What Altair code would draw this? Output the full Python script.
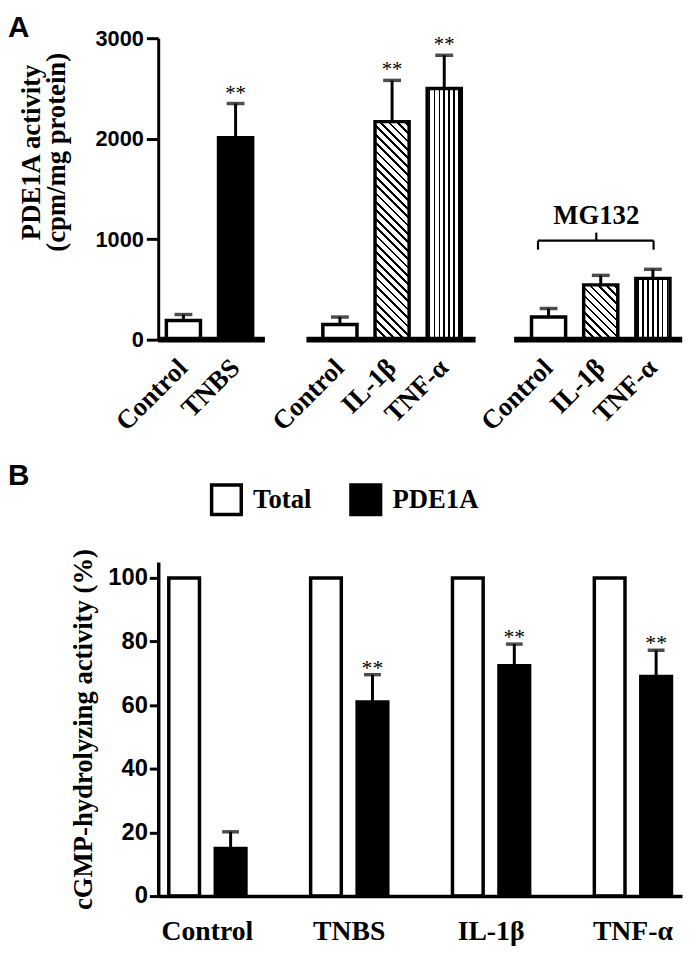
import altair as alt
import pandas as pd

# ---------------- Panel A data ----------------
a1_cats = ["Control", "TNBS"]
a1_vals = [190, 2010]
a1_sem = [60, 340]
a1_sig = ["", "**"]
a1_pat = ["open", "solid"]

a2_cats = ["Control", "IL-1β", "TNF-α"]
a2_vals = [150, 2170, 2500]
a2_sem = [75, 410, 330]
a2_sig = ["", "**", "**"]
a2_pat = ["open", "diag", "vert"]

a3_cats = ["Control", "IL-1β", "TNF-α"]
a3_vals = [225, 545, 610]
a3_sem = [85, 95, 90]
a3_sig = ["", "", ""]
a3_pat = ["open", "diag", "vert"]

a_ticks = [0, 1000, 2000, 3000]
a_ymax = 3000
a_title = ["PDE1A activity", "(cpm/mg protein)"]

mg_label = "MG132"
mg_text_y = 1150
bracket_y = 985
bracket_end_y = 895
bracket_mid_y = 1065

# ---------------- Panel B data ----------------
b_cats = ["Control", "TNBS", "IL-1β", "TNF-α"]
b_series = ["Total", "PDE1A"]
b_total = [100, 100, 100, 100]
b_pde = [15, 61, 72.4, 69]
b_pde_sem = [5.2, 8.6, 6.8, 8.3]
b_sig = ["", "**", "**", "**"]
b_ticks = [0, 20, 40, 60, 80, 100]
b_ymax = 105
b_title = "cGMP-hydrolyzing activity (%)"

# ---------------- layout ----------------
A_H = 305
A_W = 526
A_PI = 0.346
A_PO = 0.156
BASE_OFF = [(-8.3, 12.4), (-16.6, 14.5), (-17.6, 12.4)]
B_W = 530
B_H = 338
SERIF = "Liberation Serif"
SANS = "Liberation Sans"


def stripes(n, frac, x1, y1, x2, y2):
    stops = [{"offset": 0, "color": "white"}]
    for i in range(n):
        a = (i + 0.5 - frac / 2) / n
        b = (i + 0.5 + frac / 2) / n
        stops += [
            {"offset": a, "color": "white"},
            {"offset": a, "color": "black"},
            {"offset": b, "color": "black"},
            {"offset": b, "color": "white"},
        ]
    stops.append({"offset": 1, "color": "white"})
    return {"gradient": "linear", "x1": x1, "y1": y1, "x2": x2, "y2": y2, "stops": stops}


# ---------------- Panel A table (slots with gaps between groups) ----------------
groups = [
    (a1_cats, a1_vals, a1_sem, a1_sig, a1_pat),
    (a2_cats, a2_vals, a2_sem, a2_sig, a2_pat),
    (a3_cats, a3_vals, a3_sem, a3_sig, a3_pat),
]
slots = []
rows = []
grp_rows = []
grp_slots = []
for gi, (cats, vals, sem, sig, pat) in enumerate(groups):
    if gi > 0:
        slots.append(f"{len(slots)}|")
    keys = []
    for c, v, s, g, p in zip(cats, vals, sem, sig, pat):
        key = f"{len(slots)}|{c}"
        slots.append(key)
        keys.append(key)
        rows.append({"slot": key, "val": v, "top": v + s, "sig": g, "pat": p, "grp": gi})
    grp_slots.append(keys)
    grp_rows.append({"grp": gi, "s0": keys[0], "s1": keys[-1], "y0": 0})
dfA = pd.DataFrame(rows)
dfG = pd.DataFrame(grp_rows)

stepA = A_W / (len(slots) - A_PI + 2 * A_PO)
bwA = stepA * (1 - A_PI)

xsA = alt.Scale(domain=slots, paddingInner=A_PI, paddingOuter=A_PO)
xaxA = alt.Axis(title=None, labelExpr="split(datum.value, '|')[1]",
                labelAngle=315, labelAlign="right", labelBaseline="middle",
                labelFont=SERIF, labelFontWeight="bold", labelFontSize=27,
                labelColor="black", labelPadding=24, ticks=False, tickSize=0,
                domain=False, labelOverlap=False)
ysA = alt.Scale(domain=[0, a_ymax], nice=False, zero=True)
yaxA = alt.Axis(title=a_title, values=a_ticks, format="d", grid=False,
                labelFont=SANS, labelFontWeight="bold", labelFontSize=22,
                labelColor="black", labelPadding=3, labelFlush=False,
                tickSize=12, tickWidth=3, tickColor="black",
                domainColor="black", domainWidth=3,
                titleFont=SERIF, titleFontWeight="bold", titleFontSize=27,
                titleColor="black", titleAngle=270, titleAlign="center",
                titleBaseline="top", titleX=-141.5, titleY=115,
                titleLineHeight=26, titleLimit=1000)


def XA(field, bp=None):
    if bp is None:
        return alt.X(field, scale=xsA, sort=slots, axis=xaxA)
    return alt.X(field, scale=xsA, sort=slots, axis=xaxA, bandPosition=bp)


def YA(field):
    return alt.Y(field, scale=ysA, axis=yaxA)


baseA = alt.Chart(dfA)
layersA = []
for p, fill in [("open", "white"), ("solid", "black"), ("vert", stripes(7, 0.32, 0, 0, 1, 0))]:
    layersA.append(baseA.transform_filter(alt.datum.pat == p)
                   .mark_bar(fill=fill, stroke="black", strokeWidth=3.5)
                   .encode(x=XA("slot:N"), y=YA("val:Q")))
for r in rows:
    if r["pat"] != "diag":
        continue
    h = r["val"] * A_H / a_ymax
    w = bwA
    k = (w + h) / (w * w + h * h)
    n = max(2, round((w + h) / 8.5))
    fill = stripes(n, 0.33, 0, 1, k * w, 1 - k * h)
    layersA.append(baseA.transform_filter(alt.datum.slot == r["slot"])
                   .mark_bar(fill=fill, stroke="black", strokeWidth=3.5)
                   .encode(x=XA("slot:N"), y=YA("val:Q")))

layersA.append(baseA.mark_rule(color="black", strokeWidth=3).encode(
    x=XA("slot:N"), y=YA("val:Q"), y2=alt.Y2("top:Q")))
layersA.append(baseA.mark_tick(color="black", thickness=3.5, size=18).encode(
    x=XA("slot:N"), y=YA("top:Q")))
layersA.append(baseA.mark_text(font=SERIF, fontSize=21, baseline="alphabetic", dy=-4,
                               color="black").encode(
    x=XA("slot:N"), y=YA("top:Q"), text="sig:N"))

# group baselines
for gi, (o0, o1) in enumerate(BASE_OFF):
    layersA.append(alt.Chart(dfG).transform_filter(alt.datum.grp == gi)
                   .mark_rule(color="black", strokeWidth=6, xOffset=o0, x2Offset=o1)
                   .encode(x=XA("s0:N", 0), x2=alt.X2("s1:N", bandPosition=1),
                           y=YA("y0:Q")))

# MG132 bracket
g3 = grp_slots[2]
ann = pd.DataFrame({"c0": [g3[0]], "c1": [g3[1]], "c2": [g3[2]],
                    "yb": [bracket_y], "ye": [bracket_end_y], "ym": [bracket_mid_y],
                    "yt": [mg_text_y], "t": [mg_label]})
annb = alt.Chart(ann)
rule = dict(color="black", strokeWidth=2.2)
layersA += [
    annb.mark_rule(**rule).encode(x=XA("c0:N", 0.19), x2=alt.X2("c2:N", bandPosition=0.52),
                                  y=YA("yb:Q")),
    annb.mark_rule(**rule).encode(x=XA("c0:N", 0.19), y=YA("ye:Q"), y2="yb:Q"),
    annb.mark_rule(**rule).encode(x=XA("c2:N", 0.52), y=YA("ye:Q"), y2="yb:Q"),
    annb.mark_rule(**rule).encode(x=XA("c1:N", 0.37), y=YA("yb:Q"), y2="ym:Q"),
    annb.mark_text(font=SERIF, fontWeight="bold", fontSize=27, baseline="alphabetic",
                   align="center", color="black").encode(
        x=XA("c1:N", 0.37), y=YA("yt:Q"), text="t:N"),
]
layersA.append(alt.Chart(pd.DataFrame({"t": ["A"]})).mark_text(
    font=SANS, fontWeight="bold", fontSize=30, align="left", baseline="top",
    color="black").encode(x=alt.value(-152), y=alt.value(-25), text="t:N"))

panelA = alt.layer(*layersA).properties(width=A_W, height=A_H)

# ---------------- Panel B ----------------
rowsB = []
for c, t in zip(b_cats, b_total):
    rowsB.append({"cat": c, "series": "Total", "val": t, "top": t, "sig": ""})
for c, v, s, g in zip(b_cats, b_pde, b_pde_sem, b_sig):
    rowsB.append({"cat": c, "series": "PDE1A", "val": v, "top": v + s, "sig": g})
dfB = pd.DataFrame(rowsB)

xB = alt.X("cat:N", sort=b_cats,
           scale=alt.Scale(domain=b_cats, paddingInner=0.456, paddingOuter=0.0745),
           axis=alt.Axis(title=None, labelAngle=0, labelFont=SERIF, labelFontWeight="bold",
                         labelFontSize=28, labelColor="black", labelPadding=22,
                         labelBaseline="top", ticks=False, tickSize=0,
                         domainColor="black", domainWidth=3.5, zindex=1))
xoB = alt.XOffset("series:N", sort=b_series,
                  scale=alt.Scale(domain=b_series, paddingInner=0.34, paddingOuter=0))
ysB = alt.Scale(domain=[0, b_ymax], nice=False, zero=True)
yaxB = alt.Axis(title=b_title, values=b_ticks, grid=False,
                labelFont=SANS, labelFontWeight="bold", labelFontSize=24, labelColor="black",
                labelPadding=2, labelFlush=False, tickSize=9, tickWidth=3, tickColor="black",
                domainColor="black", domainWidth=3.5,
                titleFont=SERIF, titleFontWeight="bold", titleFontSize=27, titleColor="black",
                titleAngle=270, titleAlign="center", titleBaseline="top",
                titleX=-88.5, titleY=169, titleLimit=1000)
yB = alt.Y("val:Q", scale=ysB, axis=yaxB)

baseB = alt.Chart(dfB)
barsB = baseB.mark_bar(stroke="black", strokeWidth=3.5).encode(
    x=xB, xOffset=xoB, y=yB,
    fill=alt.Fill("series:N", sort=b_series,
                  scale=alt.Scale(domain=b_series, range=["white", "black"]),
                  legend=alt.Legend(title=None, orient="none", legendX=52, legendY=-80,
                                    direction="horizontal", symbolType="square",
                                    symbolSize=900, symbolStrokeColor="black",
                                    symbolStrokeWidth=3.5, symbolOpacity=1,
                                    labelFont=SERIF, labelFontWeight="bold",
                                    labelFontSize=27, labelColor="black", labelOffset=10,
                                    columnPadding=32, padding=0)))
errB_base = baseB.transform_filter(alt.datum.series == "PDE1A")
errB = errB_base.mark_rule(color="black", strokeWidth=3).encode(
    x=xB, xOffset=xoB, y=yB, y2=alt.Y2("top:Q"))
capB = errB_base.mark_tick(color="black", thickness=3.5, size=17).encode(
    x=xB, xOffset=xoB, y=alt.Y("top:Q", scale=ysB, axis=yaxB))
starB = errB_base.mark_text(font=SERIF, fontSize=22, baseline="alphabetic", dy=0,
                            color="black").encode(
    x=xB, xOffset=xoB, y=alt.Y("top:Q", scale=ysB, axis=yaxB), text="sig:N")
letterB = alt.Chart(pd.DataFrame({"t": ["B"]})).mark_text(
    font=SANS, fontWeight="bold", fontSize=30, align="left", baseline="top",
    color="black").encode(x=alt.value(-152), y=alt.value(-102), text="t:N")

panelB = alt.layer(barsB, errB, capB, starB, letterB).properties(width=B_W, height=B_H)

chart = alt.vconcat(panelA, panelB, spacing=225, bounds="flush").resolve_scale(
    fill="independent").resolve_legend(fill="independent").properties(
    padding=0).configure_view(strokeWidth=0)

chart.save("out.html", embed_options={"renderer": "svg", "actions": False})
